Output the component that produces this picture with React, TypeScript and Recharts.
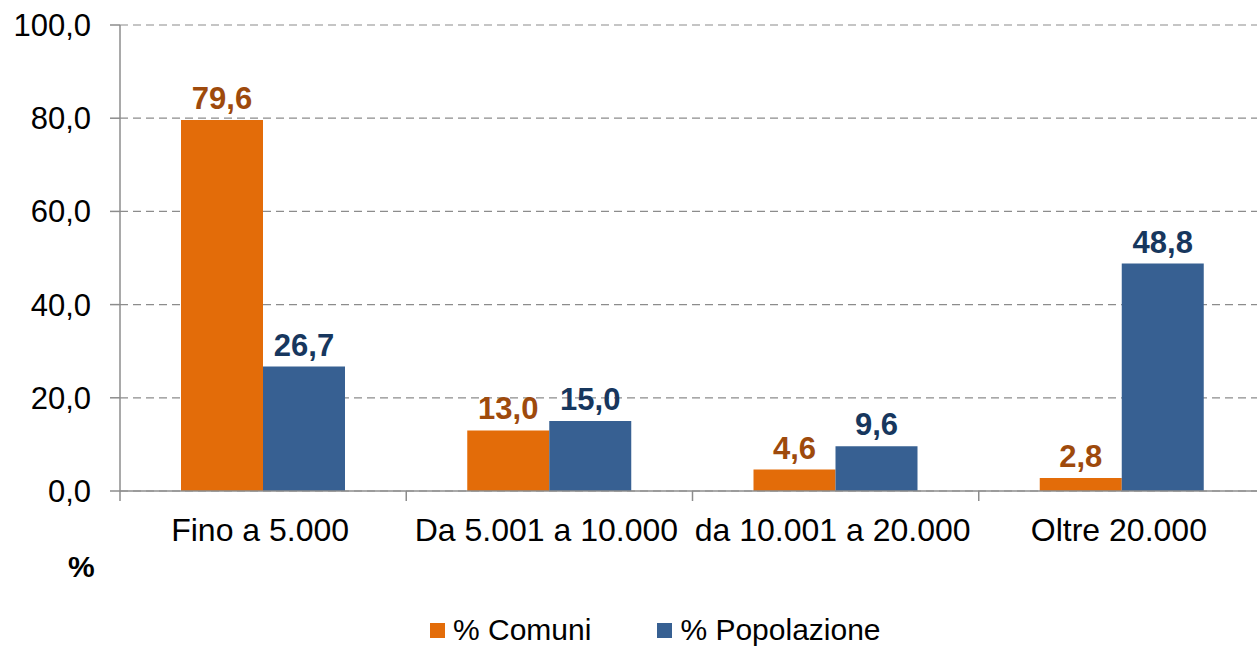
import React from 'react';
import { BarChart, Bar, XAxis, YAxis, CartesianGrid, Legend, LabelList, Label } from 'recharts';

const categories = ['Fino a 5.000', 'Da 5.001 a 10.000', 'da 10.001 a 20.000', 'Oltre 20.000'];
const comuniValues = [79.6, 13.0, 4.6, 2.8];
const popolazioneValues = [26.7, 15.0, 9.6, 48.8];
const yTicks = [0, 20, 40, 60, 80, 100];

const series = [
  { key: 'comuni', name: '% Comuni', fill: '#E36C09', labelColor: '#9E4A0C' },
  { key: 'popolazione', name: '% Popolazione', fill: '#376092', labelColor: '#17375E' },
];

const data = categories.map((cat, i) => ({
  cat,
  comuni: comuniValues[i],
  popolazione: popolazioneValues[i],
}));

const FONT = "'Liberation Sans', Arial, sans-serif";
const CHART_W = 1280;
const CHART_H = 647;
const MARGIN = { top: 25, right: 15, bottom: 0, left: 0 };
const Y_AXIS_W = 120;
const BAND = (CHART_W - MARGIN.left - MARGIN.right - Y_AXIS_W) / categories.length;
const AXIS_COLOR = '#8c8c8c';

const fmt = (v: number) => v.toFixed(1).replace('.', ',');

const CategoryTick = (props: any) => {
  const { x, y, payload } = props;
  const left = x - BAND / 2;
  return (
    <g>
      <line x1={left} y1={y} x2={left} y2={y + 10} stroke={AXIS_COLOR} strokeWidth={1.5} />
      <text x={x - 3} y={y + 50} textAnchor="middle" fill="#000" fontSize={32} fontFamily={FONT}>
        {payload.value}
      </text>
    </g>
  );
};

const LegendContent = () => (
  <div
    style={{
      height: 46,
      display: 'flex',
      alignItems: 'center',
      paddingTop: 12,
      paddingLeft: 430,
      boxSizing: 'border-box',
      fontFamily: FONT,
      fontSize: 30,
      color: '#000',
    }}
  >
    {series.map((s, i) => (
      <div key={s.key} style={{ display: 'flex', alignItems: 'center', marginRight: i === 0 ? 66 : 0 }}>
        <span style={{ display: 'inline-block', width: 15, height: 15, background: s.fill, marginRight: 8 }} />
        <span style={{ lineHeight: '30px' }}>{s.name}</span>
      </div>
    ))}
  </div>
);

const PercentLabel = (props: any) => {
  const vb = props.viewBox;
  return (
    <text x={vb.x + 68} y={vb.y + vb.height + 86} fontSize={30} fontWeight="bold" fontFamily={FONT} fill="#000">
      %
    </text>
  );
};

export default function App() {
  return (
    <div style={{ position: 'absolute', left: 0, top: 0, width: 1257, height: 647, overflow: 'hidden', background: '#fff' }}>
      <BarChart width={CHART_W} height={CHART_H} data={data} margin={MARGIN} barGap={0} barSize={82}>
        <CartesianGrid vertical={false} stroke={AXIS_COLOR} strokeDasharray="8 5" strokeWidth={1.2} />
        <XAxis
          dataKey="cat"
          height={110}
          tickLine={false}
          tickSize={0}
          tickMargin={0}
          interval={0}
          stroke={AXIS_COLOR}
          strokeWidth={1.5}
          tick={<CategoryTick />}
        />
        <YAxis
          width={Y_AXIS_W}
          domain={[0, 100]}
          ticks={yTicks}
          tickFormatter={fmt}
          tickSize={10}
          tickMargin={19}
          stroke={AXIS_COLOR}
          strokeWidth={1.5}
          tick={{ fill: '#000', fontSize: 31, fontFamily: FONT }}
        >
          <Label content={<PercentLabel />} />
        </YAxis>
        <Legend verticalAlign="bottom" height={46} content={<LegendContent />} wrapperStyle={{ left: 0, width: CHART_W, bottom: 0 }} />
        {series.map((s) => (
          <Bar key={s.key} dataKey={s.key} name={s.name} fill={s.fill} isAnimationActive={false}>
            <LabelList
              dataKey={s.key}
              position="top"
              offset={11}
              formatter={(v: any) => fmt(Number(v))}
              fill={s.labelColor}
              fontSize={31}
              fontWeight="bold"
              fontFamily={FONT}
            />
          </Bar>
        ))}
      </BarChart>
    </div>
  );
}
